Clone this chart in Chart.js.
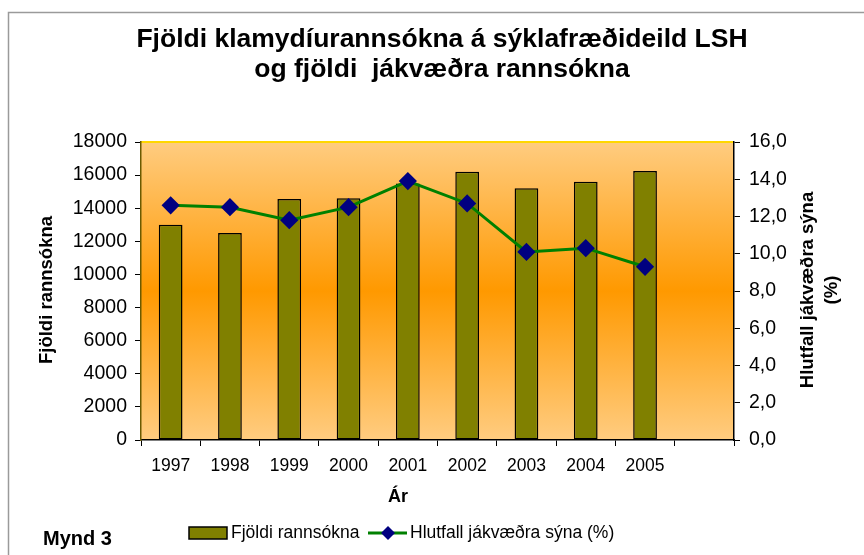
<!DOCTYPE html>
<html lang="is">
<head>
    <meta charset="UTF-8">
    <title>Fjöldi klamydíurannsókna</title>
    <script src="https://cdn.jsdelivr.net/npm/chart.js"></script>
    <style>
        html, body { margin: 0; padding: 0; background: #fff; }
        #wrap { width: 864px; height: 555px; }
    </style>
</head>
<body>
<div id="wrap"><canvas id="klamChart" width="864" height="555"></canvas></div>
<script>
    // Data
    const years = ['1997', '1998', '1999', '2000', '2001', '2002', '2003', '2004', '2005'];
    const fjoldiRannsokna = [13000, 12500, 14550, 14600, 15500, 16200, 15200, 15600, 16250];
    const hlutfallJakvaedra = [12.6, 12.5, 11.8, 12.5, 13.9, 12.7, 10.1, 10.3, 9.3];

    const titleLines = ['Fjöldi klamydíurannsókna á sýklafræðideild LSH', 'og fjöldi  jákvæðra rannsókna'];
    const FONT = 'Arial, "Liberation Sans", sans-serif';

    // the empty 10th slot on the category axis
    const labels = years.concat(['']);

    // frame, gradient, titles and legend drawn on the canvas
    const extras = {
        id: 'extras',
        beforeDraw(chart) {
            const c = chart.ctx;
            const a = chart.chartArea;
            c.save();
            c.fillStyle = '#fff';
            c.fillRect(0, 0, chart.width, chart.height);
            c.strokeStyle = '#9a9a9a';
            c.lineWidth = 1.5;
            c.strokeRect(8.5, 12.5, chart.width + 20, chart.height + 20);

            const g = c.createLinearGradient(0, a.top, 0, a.bottom);
            g.addColorStop(0, '#ffcc80');
            g.addColorStop(0.5, '#ff9900');
            g.addColorStop(1, '#ffcc80');
            c.fillStyle = g;
            c.fillRect(a.left, a.top, a.right - a.left, a.bottom - a.top);
            c.strokeStyle = '#ffd700';
            c.lineWidth = 2;
            c.beginPath();
            c.moveTo(a.left, a.top);
            c.lineTo(a.right, a.top);
            c.stroke();
            c.restore();
        },
        afterDraw(chart) {
            const c = chart.ctx;
            c.save();
            c.fillStyle = '#000';
            c.textAlign = 'center';
            c.textBaseline = 'middle';

            c.font = 'bold 26.5px ' + FONT;
            c.fillText(titleLines[0], 442, 40);
            c.fillText(titleLines[1], 442, 70);

            c.font = 'bold 18px ' + FONT;
            c.fillText('Ár', 398, 497);

            c.font = 'bold 18.5px ' + FONT;
            c.save();
            c.translate(47, 290);
            c.rotate(-Math.PI / 2);
            c.fillText(chart.options.scales.y.titleText, 0, 0);
            c.restore();

            c.font = 'bold 18.5px ' + FONT;
            c.save();
            c.translate(808, 290);
            c.rotate(-Math.PI / 2);
            c.fillText('Hlutfall jákvæðra sýna', 0, 0);
            c.fillText('(%)', 0, 24);
            c.restore();

            c.textAlign = 'left';
            c.font = 'bold 20px ' + FONT;
            c.fillText('Mynd 3', 43, 539);

            // legend
            const bar = chart.data.datasets[0];
            const line = chart.data.datasets[1];
            c.fillStyle = bar.backgroundColor;
            c.fillRect(189, 527, 38, 12);
            c.strokeStyle = '#000';
            c.lineWidth = 1.5;
            c.strokeRect(189, 527, 38, 12);
            c.font = '17.5px ' + FONT;
            c.fillStyle = '#000';
            c.fillText(bar.label, 231, 533);

            c.strokeStyle = line.borderColor;
            c.lineWidth = 3;
            c.beginPath();
            c.moveTo(368, 533);
            c.lineTo(407, 533);
            c.stroke();
            c.fillStyle = line.pointBackgroundColor;
            c.beginPath();
            c.moveTo(388, 526);
            c.lineTo(395, 533);
            c.lineTo(388, 540);
            c.lineTo(381, 533);
            c.closePath();
            c.fill();
            c.fillStyle = '#000';
            c.fillText(line.label, 410, 533);
            c.restore();
        }
    };

    const ctx = document.getElementById('klamChart').getContext('2d');
    const chart = new Chart(ctx, {
        type: 'bar',
        data: {
            labels: labels,
            datasets: [{
                type: 'bar',
                label: 'Fjöldi rannsókna',
                data: fjoldiRannsokna,
                yAxisID: 'y',
                backgroundColor: '#808000',
                borderColor: '#000',
                borderWidth: 1.5,
                borderSkipped: false,
                barPercentage: 0.4,
                categoryPercentage: 1.0,
                order: 1
            }, {
                type: 'line',
                label: 'Hlutfall jákvæðra sýna (%)',
                data: hlutfallJakvaedra,
                yAxisID: 'y1',
                borderColor: '#008000',
                borderWidth: 3,
                pointStyle: 'rectRot',
                pointRadius: 7,
                pointHoverRadius: 7,
                pointBackgroundColor: '#000080',
                pointBorderColor: '#000080',
                tension: 0,
                order: 0
            }]
        },
        options: {
            responsive: false,
            animation: false,
            layout: { padding: { top: 142, left: 0, right: 0, bottom: 0 } },
            plugins: {
                legend: { display: false },
                title: { display: false },
                tooltip: { enabled: false }
            },
            scales: {
                x: {
                    afterFit: s => { s.height = 115; },
                    grid: { drawOnChartArea: false, tickLength: 6, color: '#000', offset: true },
                    border: { color: '#000', width: 1.5 },
                    ticks: { color: '#000', font: { family: FONT, size: 17.5 }, padding: 10, maxRotation: 0 }
                },
                y: {
                    titleText: 'Fjöldi rannsókna',
                    position: 'left',
                    min: 0,
                    max: 18000,
                    afterFit: s => { s.width = 141; },
                    grid: { drawOnChartArea: false, tickLength: 6, color: '#000' },
                    border: { color: '#6b5a00', width: 1.5 },
                    ticks: {
                        stepSize: 2000,
                        color: '#000',
                        font: { family: FONT, size: 19.5 },
                        padding: 8,
                        callback: v => String(v)
                    }
                },
                y1: {
                    position: 'right',
                    min: 0,
                    max: 16,
                    afterFit: s => { s.width = 130; },
                    grid: { drawOnChartArea: false, tickLength: 6, color: '#000' },
                    border: { color: '#000', width: 1.5 },
                    ticks: {
                        stepSize: 2,
                        color: '#000',
                        font: { family: FONT, size: 19.5 },
                        padding: 9,
                        callback: v => v.toFixed(1).replace('.', ',')
                    }
                }
            }
        },
        plugins: [extras]
    });
</script>
</body>
</html>
